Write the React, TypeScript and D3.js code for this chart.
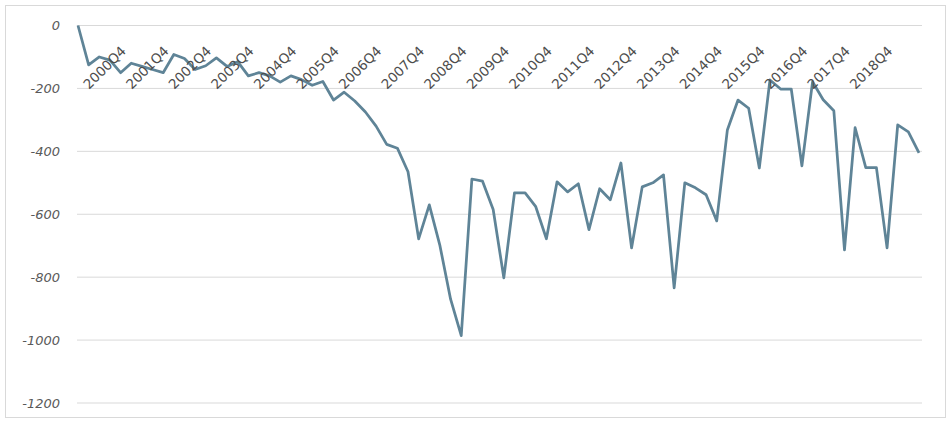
import React from "react";
import * as d3 from "d3";

// Quarterly series, 2000Q1 – 2019Q4
const years: number[] = d3.range(2000, 2020);
const quarters: string[] = years.flatMap((y) => [1, 2, 3, 4].map((q) => `${y}Q${q}`));

const values: number[] = [
  0, -125, -100, -110, -150, -120, -130, -140, -150, -92,
  -105, -140, -128, -103, -130, -115, -160, -150, -160, -180,
  -160, -172, -190, -178, -237, -212, -240, -275, -320, -378,
  -390, -465, -678, -570, -700, -870, -986, -488, -495, -585,
  -802, -532, -532, -576, -678, -497, -529, -503, -649, -519,
  -554, -437, -707, -513, -500, -475, -834, -500, -516, -538,
  -621, -332, -237, -263, -453, -173, -202, -202, -446, -179,
  -236, -271, -713, -325, -452, -452, -707, -316, -338, -405,
];

// Axis labels
const xTickLabels: string[] = quarters.filter((q) => q.endsWith("Q4") && q !== "2019Q4");
const yTicks: number[] = [0, -200, -400, -600, -800, -1000, -1200];

const W = 952;
const H = 421;
const plot = { left: 77, right: 922, top: 25.5, bottom: 403 };

export default function App() {
  const x = d3
    .scalePoint<string>()
    .domain(quarters)
    .range([plot.left + 1, plot.right - 3]);
  const y = d3.scaleLinear().domain([0, -1200]).range([plot.top, plot.bottom]);

  const line = d3
    .line<number>()
    .x((_, i) => x(quarters[i]) as number)
    .y((d) => y(d));

  return (
    <svg
      width={W}
      height={H}
      style={{ position: "absolute", left: 0, top: 0, background: "#fff" }}
      fontFamily="'DejaVu Sans', sans-serif"
    >
      <rect x={5.5} y={5.5} width={940} height={412} fill="#fff" stroke="#d9d9d9" />
      {yTicks.map((t) => (
        <g key={t}>
          <line
            x1={plot.left}
            x2={plot.right}
            y1={y(t)}
            y2={y(t)}
            stroke="#d9d9d9"
            strokeWidth={1}
          />
          <text
            x={60}
            y={y(t)}
            dy="0.35em"
            textAnchor="end"
            fontSize={13}
            fontStyle="italic"
            fill="#595959"
          >
            {t}
          </text>
        </g>
      ))}
      <path
        d={line(values) ?? ""}
        fill="none"
        stroke="#5f8497"
        strokeWidth={2.75}
        strokeLinejoin="round"
      />
      {xTickLabels.map((q) => {
        const px = (x(q) as number) + 17;
        const py = 52;
        return (
          <text
            key={q}
            x={px}
            y={py}
            transform={`rotate(-45 ${px} ${py})`}
            textAnchor="end"
            fontSize={13.5}
            fill="#4d4d4d"
          >
            {q}
          </text>
        );
      })}
    </svg>
  );
}
